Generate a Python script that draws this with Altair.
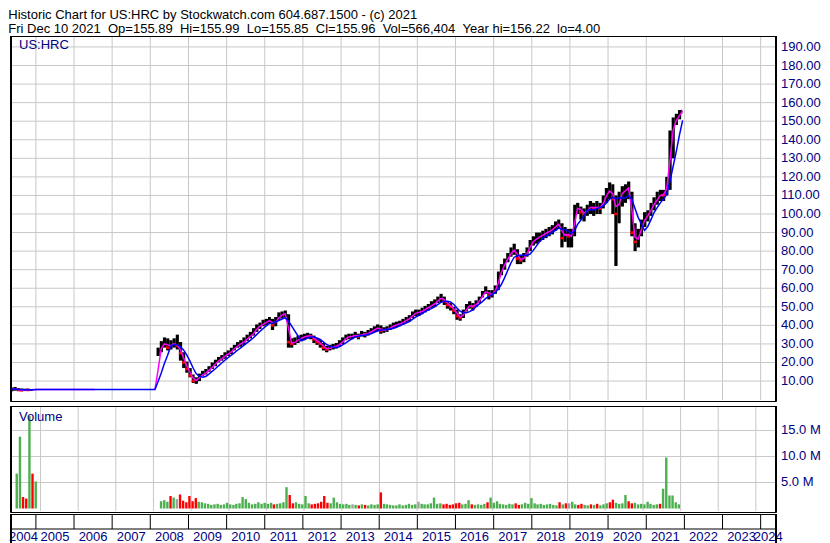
import altair as alt
import pandas as pd

# ---------------- text ----------------
HEADER_1 = "Historic Chart for US:HRC by Stockwatch.com 604.687.1500 - (c) 2021"
HEADER_2 = "Fri Dec 10 2021  Op=155.89  Hi=155.99  Lo=155.85  Cl=155.96  Vol=566,404  Year hi=156.22  lo=4.00"
SYMBOL = "US:HRC"
VOL_LABEL = "Volume"

# ---------------- data ----------------
# early 2004 bars (monthly)
early_lo = [4.5, 4.8, 4.6, 4.7, 4.6, 4.8, 4.7]
early_hi = [6.5, 6.8, 6.2, 6.0, 5.8, 5.9, 5.6]
early_cl = [5.5, 5.8, 5.2, 5.0, 5.4, 5.2, 5.5]
early_vol = [6.7, 13.8, 2.2, 1.9, 17.8, 6.7, 5.2]  # millions

FLAT_LEVEL = 5.5  # level of the flat moving-average line 2004-12 .. 2008-02

# monthly bars 2008-03 .. 2021-12
lo = [
    23.5, 25.5, 28, 26.5, 27, 28, 27, 21, 17, 14.5,                  # 2008 (Mar-Dec)
    12, 9, 8.5, 10, 12.5, 13.5, 15, 16.5, 18, 20, 21, 22,            # 2009
    23.5, 24.5, 26.5, 28, 28.5, 29.5, 31.5, 33, 34.5, 36.5, 38, 39.5,  # 2010
    40, 41, 37.5, 39.5, 43, 44, 44.5, 28, 28, 29.5, 30.5, 31.5,      # 2011
    32, 33, 32.5, 30.5, 29.5, 28, 26.5, 25.5, 26.5, 27, 27.5, 28.5,  # 2012
    30, 32, 32.5, 32.5, 33.5, 32.5, 34, 33.5, 34.5, 35.5, 36.5, 37,  # 2013
    35.5, 36, 36.5, 37.5, 38.5, 39, 39.5, 40.5, 41.5, 42, 44, 45,    # 2014
    45, 46, 47, 48, 49.5, 50, 52, 52.5, 51, 49, 48, 46,              # 2015
    43, 42.5, 44, 47.5, 49, 48, 50, 52, 55, 57, 54, 55,              # 2016
    57, 59, 67, 70, 74, 77, 78, 73, 73, 74, 77, 80,                  # 2017
    83, 84, 85, 86, 87, 88, 89, 91, 92, 82, 85, 82,                  # 2018
    82, 88, 100, 97, 96, 99, 100, 99, 100, 100, 103, 106,            # 2019
    108, 100, 72, 95, 104, 106, 108, 88, 80, 82, 88, 93,             # 2020
    96, 99, 102, 105, 107, 107, 110, 113, 130, 148, 151, 154,        # 2021
]
hi = [
    28, 31.5, 33.5, 33, 32, 33, 35, 31, 25.5, 20.5,
    17, 13.5, 12, 14, 15.5, 16.5, 18, 20, 21.5, 23, 24, 25.5,
    26.5, 28, 29.5, 31, 32, 33.5, 35, 36.5, 38.5, 40.5, 41.5, 43,
    43.5, 44.5, 43.5, 44.5, 47, 47.5, 48, 46, 33, 33.5, 34.5, 35,
    35.5, 36, 35.5, 34.5, 33, 32, 30.5, 29, 29.5, 30, 30.5, 32,
    33.5, 35, 35.5, 35.5, 36.5, 35.5, 37, 36.5, 37.5, 38.5, 39.5, 40.5,
    40, 39, 39.5, 40.5, 41.5, 42, 42.5, 43.5, 44.5, 45.5, 47.5, 48.5,
    48.5, 49.5, 50.5, 51.5, 53, 54, 55.5, 57, 55.5, 53, 52, 50,
    48.5, 46, 48.5, 51.5, 53, 52, 53.5, 55.5, 58.5, 61, 59, 59,
    61.5, 69, 73, 76, 79, 82, 84, 81, 78, 79, 82, 86,
    88, 90, 90, 91, 92, 93, 94, 96, 97, 95, 93, 92,
    92, 105, 106, 104, 103, 105, 107, 106, 107, 106, 110, 114,
    117, 116, 110, 112, 115, 116, 117.5, 112, 95, 92, 97, 101,
    102, 106, 109, 112, 113, 113, 120, 145, 152, 154, 156, 156.2,
]
cl = [
    26, 29, 31, 28, 30, 30, 29, 25, 20, 16.5,
    13, 10, 10.5, 13, 13.5, 15, 16.5, 18, 20, 21.5, 22.5, 24,
    25, 26.5, 28, 29.5, 30.5, 31.5, 33.5, 34.5, 36.5, 39, 40, 41,
    42, 43, 40, 43, 45, 46, 46.5, 31, 30, 31.5, 32.5, 33.5,
    34, 34.5, 34, 32.5, 31, 30, 28, 27, 28, 28.5, 29, 30,
    32, 33.5, 34, 34, 35, 34, 35.5, 35, 36, 37, 38, 39,
    37, 37.5, 38, 39, 40, 40.5, 41, 42, 43, 44, 46, 47,
    47, 48, 49, 50, 51, 52, 54, 55, 53, 51, 50, 48,
    45, 44, 47, 50, 51, 50, 52, 54, 57, 59, 56, 57,
    60, 66, 71, 74, 77, 80, 81, 76, 75, 77, 80, 84,
    86, 87, 88, 89, 90, 91, 92, 94, 95, 87, 90, 88,
    88, 102, 104, 101, 100, 103, 104, 103, 104, 103, 108, 111,
    114, 108, 100, 110, 112, 113, 115, 90, 85, 88, 95, 98,
    100, 104, 106, 109, 111, 110, 117, 140, 150, 151, 155, 156,
]
vol = [  # millions
    1.4, 1.6, 1.3, 2.4, 2.1, 1.8, 2.7, 1.5, 1.2, 2.4,
    1.4, 2.0, 1.3, 1.2, 1.0, 0.9, 0.7, 0.8, 0.9, 0.7, 0.8, 1.1,
    0.8, 0.7, 0.9, 1.0, 2.2, 1.8, 1.1, 0.8, 0.9, 1.2, 0.9, 1.1,
    0.9, 1.1, 0.8, 0.9, 1.0, 1.2, 4.1, 2.6, 1.0, 1.2, 0.9, 0.8,
    2.4, 1.0, 0.8, 0.9, 1.0, 1.3, 2.4, 1.1, 1.0, 2.1, 1.2, 0.9,
    0.8, 0.9, 0.7, 0.8, 0.7, 0.6, 0.8, 0.7, 0.6, 0.8, 0.7, 0.8,
    3.1, 0.9, 0.8, 0.7, 0.6, 0.6, 0.8, 0.6, 0.7, 0.9, 0.7, 0.8,
    1.3, 0.9, 0.8, 0.8, 1.0, 2.1, 0.9, 1.0, 0.8, 0.9, 0.7, 0.8,
    1.0, 1.1, 0.8, 0.9, 1.6, 0.8, 0.7, 0.8, 0.7, 0.9, 1.2, 2.1,
    1.1, 1.4, 0.9, 0.8, 0.7, 0.9, 0.8, 1.0, 0.7, 0.8, 1.1, 0.9,
    2.0, 1.0, 0.8, 0.9, 0.7, 0.8, 0.9, 0.7, 0.6, 1.2, 0.8, 1.0,
    1.0, 1.3, 0.8, 0.7, 0.9, 0.7, 0.6, 0.8, 0.7, 0.9, 0.6, 0.8,
    1.0, 1.2, 1.7, 1.1, 0.9, 1.0, 2.6, 1.4, 1.0, 1.1, 0.8, 0.9,
    0.8, 1.3, 0.9, 0.7, 0.8, 0.9, 3.8, 9.8, 2.5, 2.5, 1.2, 0.8,
]

PRICE_TICKS = list(range(10, 200, 10))
VOL_TICKS = [5, 10, 15]  # millions
YEARS = list(range(2004, 2025))
X_START = pd.Timestamp("2004-04-28")
X_END = pd.Timestamp("2024-05-27")
LAST_DAY = pd.Timestamp("2021-12-11")

# ---------------- style ----------------
FONT = "Liberation Sans"
NAVY = "#000080"
GRID = "#c8c8c8"
GREEN = "#4caf50"
RED = "#ff0000"
GREY = "#a0a0a0"
W = 766
H_PRICE = 365
H_VOL = 106
H_STRIP = 30
STRIP_TICK = 15

# ---------------- tables ----------------
months = pd.date_range("2004-05-01", "2021-12-01", freq="MS")
n_flat = len(months) - len(early_cl) - len(cl)
df = pd.DataFrame({
    "start": months,
    "lo": early_lo + [None] * n_flat + lo,
    "hi": early_hi + [None] * n_flat + hi,
    "cl": early_cl + [FLAT_LEVEL] * n_flat + cl,
    "vol": [v * 1e6 for v in early_vol] + [None] * n_flat + [v * 1e6 for v in vol],
})
df["end"] = (df["start"] + pd.offsets.MonthBegin(1)).clip(upper=LAST_DAY)
df["mid"] = df["start"] + pd.Timedelta(days=14)
df["fast"] = df["cl"].rolling(2, min_periods=1).mean()
df["slow"] = df["cl"].rolling(5, min_periods=1).mean()
prev = df["cl"].shift(1)
df["dir"] = ["up" if (pd.isna(p) or c > p) else ("down" if c < p else "flat")
             for c, p in zip(df["cl"], prev)]
df["r0"] = df["cl"] - 0.7
df["r1"] = df["cl"] + 0.7

bars_df = df.dropna(subset=["lo"]).copy()
down_df = bars_df[bars_df["dir"] == "down"].copy()
vol_df = df.dropna(subset=["vol"]).copy()

fast_df = df[(df["start"] <= "2006-07-01") | (df["start"] >= "2008-02-01")].copy()
fast_df["seg"] = (fast_df["start"] >= "2008-02-01").astype(int)
slow_df = df.copy()

year_starts = pd.DataFrame({"start": pd.to_datetime([f"{y}-01-01" for y in YEARS[1:]])})
lab_pos = []
for y in YEARS:
    a = max(pd.Timestamp(f"{y}-01-01"), X_START + pd.Timedelta(days=12))
    b = min(pd.Timestamp(f"{y + 1}-01-01"), X_END)
    lab_pos.append(a + (b - a) / 2)
labels_df = pd.DataFrame({"pos": lab_pos, "label": [str(y) for y in YEARS]})

price_ticks_df = pd.DataFrame({"v": PRICE_TICKS, "label": [f"{v:.2f}" for v in PRICE_TICKS]})
vol_ticks_df = pd.DataFrame({"v": [v * 1e6 for v in VOL_TICKS],
                             "label": [f"{v:.1f} M" for v in VOL_TICKS]})

one = pd.DataFrame({"t": [SYMBOL]})
one_v = pd.DataFrame({"t": [VOL_LABEL]})

# ---------------- scales ----------------
x_scale = alt.Scale(domain=[alt.DateTime(year=2004, month=4, date=28),
                            alt.DateTime(year=2024, month=5, date=27)])
price_scale = alt.Scale(domain=[-0.75, 195.9], nice=False, zero=False)
vol_scale = alt.Scale(domain=[-0.67e6, 19.7e6], nice=False, zero=False)


def year_grid(height):
    return alt.Chart(year_starts).mark_rule(color=GRID, strokeWidth=1).encode(
        x=alt.X("start:T", scale=x_scale, axis=None),
        y=alt.value(1), y2=alt.value(height - 1))


def h_grid(tdf, scale):
    return alt.Chart(tdf).mark_rule(color=GRID, strokeWidth=1).encode(
        y=alt.Y("v:Q", scale=scale, axis=None), x=alt.value(1), x2=alt.value(W - 1))


def right_labels(tdf, scale):
    return alt.Chart(tdf).mark_text(align="left", baseline="middle", font=FONT,
                                    fontSize=13, color=NAVY).encode(
        y=alt.Y("v:Q", scale=scale, axis=None), x=alt.value(W + 5), text="label:N")


def edge(height, x0, x1):
    return alt.Chart(one).mark_rect(color="black").encode(
        x=alt.value(x0), x2=alt.value(x1), y=alt.value(0), y2=alt.value(height))


def edges(height):
    return [edge(height, 0, 2), edge(height, W - 1, W + 1)]


# ---------------- price panel ----------------
p_bars = alt.Chart(bars_df).mark_rect(color="black").encode(
    x=alt.X("start:T", scale=x_scale, axis=None),
    x2="end:T",
    y=alt.Y("lo:Q", scale=price_scale, axis=None),
    y2="hi:Q",
)
p_red = alt.Chart(down_df).mark_rect(color=RED).encode(
    x=alt.X("start:T", scale=x_scale, axis=None), x2="end:T",
    y=alt.Y("r0:Q", scale=price_scale, axis=None), y2="r1:Q",
)
p_fast = alt.Chart(fast_df).mark_line(color="#ff00ff", strokeWidth=1.5).encode(
    x=alt.X("mid:T", scale=x_scale, axis=None),
    y=alt.Y("fast:Q", scale=price_scale, axis=None),
    detail="seg:N",
)
p_slow = alt.Chart(slow_df).mark_line(color="#0000ff", strokeWidth=1.5).encode(
    x=alt.X("mid:T", scale=x_scale, axis=None),
    y=alt.Y("slow:Q", scale=price_scale, axis=None),
)
p_label = alt.Chart(one).mark_text(align="left", baseline="alphabetic", font=FONT,
                                   fontSize=13, color=NAVY).encode(
    x=alt.value(9), y=alt.value(13), text="t:N")
price = alt.layer(
    year_grid(H_PRICE), h_grid(price_ticks_df, price_scale),
    p_bars, p_red, p_fast, p_slow, p_label,
    right_labels(price_ticks_df, price_scale),
    *edges(H_PRICE),
).properties(width=W, height=H_PRICE)

# ---------------- volume panel ----------------
v_bars = alt.Chart(vol_df).mark_bar(size=2.4).encode(
    x=alt.X("mid:T", scale=x_scale, axis=None),
    y=alt.Y("vol:Q", scale=vol_scale, axis=None),
    color=alt.Color("dir:N", scale=alt.Scale(domain=["up", "down", "flat"],
                                             range=[GREEN, RED, GREY]), legend=None),
)
v_label = alt.Chart(one_v).mark_text(align="left", baseline="alphabetic", font=FONT,
                                     fontSize=13, color=NAVY).encode(
    x=alt.value(9), y=alt.value(15), text="t:N")
volume = alt.layer(
    year_grid(H_VOL), h_grid(vol_ticks_df, vol_scale), v_bars, v_label,
    right_labels(vol_ticks_df, vol_scale),
    *edges(H_VOL),
).properties(width=W, height=H_VOL)

# ---------------- year strip ----------------
s_ticks = alt.Chart(year_starts).mark_rule(color="black").encode(
    x=alt.X("start:T", scale=x_scale, axis=None), y=alt.value(1), y2=alt.value(STRIP_TICK))
s_line = alt.Chart(one).mark_rule(color="black").encode(
    x=alt.value(1), x2=alt.value(W - 1), y=alt.value(STRIP_TICK))
s_labels = alt.Chart(labels_df).mark_text(baseline="middle", align="center", font=FONT,
                                          fontSize=13, color=NAVY).encode(
    x=alt.X("pos:T", scale=x_scale, axis=None), y=alt.value(STRIP_TICK + 8),
    text="label:N")
strip = alt.layer(s_ticks, s_line, s_labels, *edges(H_STRIP)).properties(
    width=W, height=H_STRIP)

chart = alt.vconcat(
    price,
    alt.vconcat(volume, strip, spacing=0),
    spacing=3,
).properties(
    title=alt.TitleParams(text=[HEADER_1.replace("  ", " \u00a0"),
                                HEADER_2.replace("  ", " \u00a0")],
                          anchor="start", font=FONT, fontSize=13, fontWeight="normal",
                          color="black", lineHeight=14, offset=0),
    padding=0,
    background="white",
).configure_view(stroke="black", strokeWidth=1)

chart.save("out.html", embed_options={"renderer": "svg", "actions": False})
